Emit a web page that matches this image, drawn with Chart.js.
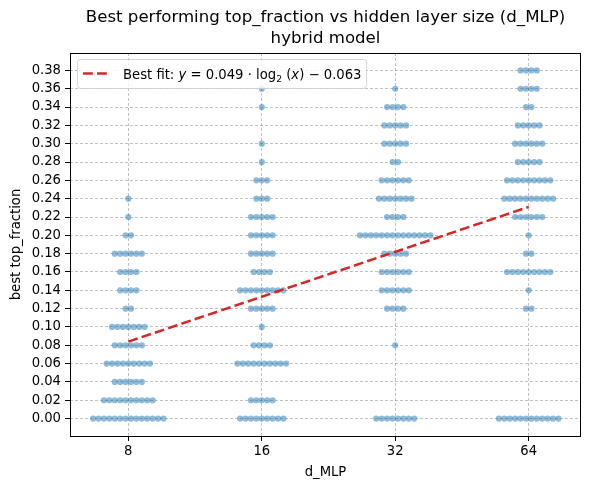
<!DOCTYPE html>
<html>
<head>
<meta charset="utf-8">
<script src="https://cdn.jsdelivr.net/npm/chart.js@4.4.0/dist/chart.umd.min.js"></script>
<style>
    html, body { margin: 0; padding: 0; background: #fff; }
    #wrap { width: 590px; height: 489px; }
</style>
</head>
<body>
<div id="wrap"><canvas id="chart" width="590" height="489"></canvas></div>
<script>
// d_MLP categories (x axis)
const dMLP = ["8", "16", "32", "64"];

// top_fraction levels, 0.00 .. 0.38
const levels = [0.00, 0.02, 0.04, 0.06, 0.08, 0.10, 0.12, 0.14, 0.16, 0.18,
                0.20, 0.22, 0.24, 0.26, 0.28, 0.30, 0.32, 0.34, 0.36, 0.38];

// number of runs whose best top_fraction landed on each level
const counts8  = [14, 10, 6, 9, 6, 7, 2, 4, 4, 6, 2, 1, 1, 0, 0, 0, 0, 0, 0, 0];
const counts16 = [9, 5, 0, 10, 4, 1, 5, 9, 4, 5, 5, 5, 3, 3, 1, 1, 0, 1, 1, 0];
const counts32 = [8, 0, 0, 0, 1, 0, 4, 6, 6, 5, 14, 4, 7, 6, 2, 5, 5, 4, 1, 0];
const counts64 = [12, 0, 0, 0, 0, 0, 2, 1, 9, 2, 1, 6, 10, 9, 5, 6, 5, 2, 4, 4];

// best fit line values at each d_MLP
const fitLine = [0.084, 0.133, 0.182, 0.231];

const allCounts = [counts8, counts16, counts32, counts64];

// swarm layout: dots side by side, centred on the category
const dotStep = 0.0406;
const swarm = [];
allCounts.forEach((counts, ci) => {
    counts.forEach((n, li) => {
        for (let j = 0; j < n; j++) {
            swarm.push({x: ci + (j - (n - 1) / 2) * dotStep, y: levels[li]});
        }
    });
});

const FONT = "'DejaVu Sans', sans-serif";

const framePlugin = {
    id: "frame",
    afterDatasetsDraw(chart) {
        const ctx = chart.ctx;
        const a = chart.chartArea;
        ctx.save();

        // axes frame
        ctx.strokeStyle = "#000";
        ctx.lineWidth = 1;
        ctx.setLineDash([]);
        ctx.strokeRect(a.left + 0.5, a.top + 0.5, a.right - a.left - 1, a.bottom - a.top);

        // legend box
        const lx = 77.5, ly = 59.5, lw = 289, lh = 29, r = 3;
        ctx.beginPath();
        ctx.roundRect(lx, ly, lw, lh, r);
        ctx.fillStyle = "rgba(255,255,255,0.8)";
        ctx.fill();
        ctx.strokeStyle = "rgba(204,204,204,0.8)";
        ctx.lineWidth = 1;
        ctx.stroke();

        ctx.beginPath();
        ctx.strokeStyle = "#d62728";
        ctx.lineWidth = 2.5;
        ctx.setLineDash([9.8, 4.2]);
        ctx.moveTo(83, 73.5);
        ctx.lineTo(111, 73.5);
        ctx.stroke();
        ctx.setLineDash([]);

        ctx.fillStyle = "#000";
        ctx.textBaseline = "alphabetic";
        ctx.textAlign = "left";
        const base = 78.5;
        let x = 123;
        const parts = [
            ["Best fit: ", "13.2px", 0],
            ["y", "italic 13.2px", 0],
            [" = 0.049 \u00b7 log", "13.2px", 0],
            ["2", "9.2px", 3],
            [" (", "13.2px", 0],
            ["x", "italic 13.2px", 0],
            [") \u2212 0.063", "13.2px", 0]
        ];
        parts.forEach(([t, f, dy]) => {
            ctx.font = f + " " + FONT;
            ctx.fillText(t, x, base + dy);
            x += ctx.measureText(t).width;
        });

        // title
        ctx.font = "16.6px " + FONT;
        ctx.textAlign = "center";
        ctx.textBaseline = "middle";
        const cx = (a.left + a.right) / 2;
        ctx.fillText("Best performing top_fraction vs hidden layer size (d_MLP)", cx, 18);
        ctx.fillText("hybrid model", cx, 39);
        ctx.restore();
    }
};

const gridStyle = {
    color: "rgba(0,0,0,0.3)",
    lineWidth: 0.8,
    tickColor: "#000",
    tickLength: 5,
    tickWidth: 1,
    tickBorderDash: []
};
const borderStyle = {display: false, dash: [3, 2]};

new Chart(document.getElementById("chart").getContext("2d"), {
    type: "scatter",
    data: {
        datasets: [
            {
                label: "Best fit",
                data: fitLine.map((y, i) => ({x: i, y: y})),
                showLine: true,
                borderColor: "#d62728",
                borderWidth: 2.5,
                borderDash: [9.8, 4.2],
                pointRadius: 0,
                order: 0
            },
            {
                label: "runs",
                data: swarm,
                backgroundColor: "rgba(31,119,180,0.5)",
                borderWidth: 0,
                pointRadius: 3.1,
                pointHoverRadius: 3.1,
                order: 1
            }
        ]
    },
    options: {
        responsive: false,
        animation: false,
        devicePixelRatio: 1,
        layout: {padding: {left: 0, right: 9, top: 53, bottom: 0}},
        plugins: {legend: {display: false}, tooltip: {enabled: false}},
        scales: {
            x: {
                type: "linear",
                min: -0.437,
                max: 3.392,
                afterBuildTicks: s => { s.ticks = dMLP.map((_, i) => ({value: i})); },
                afterFit: s => { s.height = 53; },
                ticks: {
                    callback: v => dMLP[v],
                    color: "#000",
                    font: {family: FONT, size: 13.2},
                    padding: 3,
                    maxRotation: 0
                },
                grid: gridStyle,
                border: borderStyle,
                title: {
                    display: true,
                    text: "d_MLP",
                    color: "#000",
                    font: {family: FONT, size: 13.2},
                    padding: {top: 0, bottom: 9}
                }
            },
            y: {
                min: -0.019,
                max: 0.399,
                afterBuildTicks: s => { s.ticks = levels.map(v => ({value: v})); },
                afterFit: s => { s.width = 70; },
                ticks: {
                    callback: v => v.toFixed(2),
                    color: "#000",
                    font: {family: FONT, size: 13.2},
                    padding: 4
                },
                grid: gridStyle,
                border: borderStyle,
                title: {
                    display: true,
                    text: "best top_fraction",
                    color: "#000",
                    font: {family: FONT, size: 13.2},
                    padding: {top: 9, bottom: 0}
                }
            }
        }
    },
    plugins: [framePlugin]
});
</script>
</body>
</html>
